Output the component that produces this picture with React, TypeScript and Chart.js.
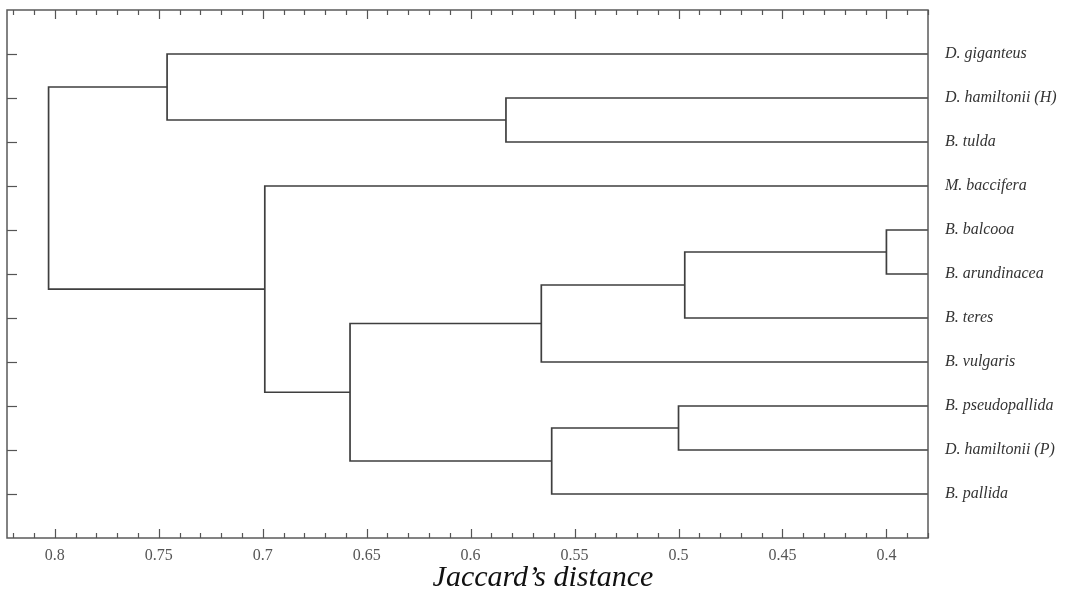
import React, { useEffect, useRef } from "react";
import { Chart, registerables } from "chart.js";

Chart.register(...registerables);

// Leaves, top to bottom
const leafNames: string[] = [
  "D. giganteus",
  "D. hamiltonii (H)",
  "B. tulda",
  "M. baccifera",
  "B. balcooa",
  "B. arundinacea",
  "B. teres",
  "B. vulgaris",
  "B. pseudopallida",
  "D. hamiltonii (P)",
  "B. pallida",
];
const leafDistance = 0.38;

// Merges: child A index, child B index (leaves 0..10, new nodes 11..)
const mergeChildA: number[] = [1, 0, 4, 13, 14, 8, 16, 15, 3, 12];
const mergeChildB: number[] = [2, 11, 5, 6, 7, 9, 10, 17, 18, 19];
const mergeDistance: number[] = [0.583, 0.746, 0.4, 0.497, 0.566, 0.5, 0.561, 0.658, 0.699, 0.803];

const xMajorTicks: number[] = [0.8, 0.75, 0.7, 0.65, 0.6, 0.55, 0.5, 0.45, 0.4];
const xMinorStep = 0.01;
const xMin = 0.38;
const xMax = 0.823;
const axisTitle = "Jaccard\u2019s distance";

function buildSegments() {
  const nodeX: number[] = leafNames.map(() => leafDistance);
  const nodeY: number[] = leafNames.map((_, i) => i + 1);
  const sets: { x: number; y: number }[][] = [];
  mergeDistance.forEach((h, i) => {
    const a = mergeChildA[i];
    const b = mergeChildB[i];
    sets.push([
      { x: nodeX[a], y: nodeY[a] },
      { x: h, y: nodeY[a] },
      { x: h, y: nodeY[b] },
      { x: nodeX[b], y: nodeY[b] },
    ]);
    nodeX.push(h);
    nodeY.push((nodeY[a] + nodeY[b]) / 2);
  });
  return sets;
}

const serif = "'Liberation Serif', 'Times New Roman', serif";

const decorPlugin = {
  id: "dendroDecor",
  afterDraw(chart: any) {
    const { ctx, chartArea } = chart;
    const xs = chart.scales.x;
    const ys = chart.scales.y;
    const { left, right, top, bottom } = chartArea;
    ctx.save();
    // frame
    ctx.strokeStyle = "#5a5a5a";
    ctx.lineWidth = 1.5;
    ctx.strokeRect(left, top, right - left, bottom - top);
    // x ticks
    ctx.lineWidth = 1.2;
    ctx.strokeStyle = "#555";
    const kStart = Math.ceil(xMin / xMinorStep - 1e-9);
    const kEnd = Math.floor(xMax / xMinorStep + 1e-9);
    for (let k = kStart; k <= kEnd; k++) {
      const v = k * xMinorStep;
      const px = Math.round(xs.getPixelForValue(v)) + 0.5;
      const major = xMajorTicks.some((m) => Math.abs(m - v) < 1e-6);
      const len = major ? 9 : 5;
      ctx.beginPath();
      ctx.moveTo(px, bottom);
      ctx.lineTo(px, bottom - len);
      ctx.moveTo(px, top);
      ctx.lineTo(px, top + len);
      ctx.stroke();
    }
    // x tick labels
    ctx.fillStyle = "#555";
    ctx.font = `16px ${serif}`;
    ctx.textAlign = "center";
    ctx.textBaseline = "middle";
    xMajorTicks.forEach((m) => {
      ctx.fillText(String(m), xs.getPixelForValue(m), bottom + 18);
    });
    // y ticks + leaf labels
    ctx.font = `italic 16px ${serif}`;
    ctx.textAlign = "left";
    ctx.fillStyle = "#333";
    leafNames.forEach((name, i) => {
      const py = Math.round(ys.getPixelForValue(i + 1)) + 0.5;
      ctx.beginPath();
      ctx.moveTo(left, py);
      ctx.lineTo(left + 10, py);
      ctx.stroke();
      ctx.fillText(name, right + 17, ys.getPixelForValue(i + 1));
    });
    // axis title
    ctx.fillStyle = "#111";
    ctx.font = `italic 30px ${serif}`;
    ctx.textAlign = "center";
    ctx.textBaseline = "alphabetic";
    ctx.fillText(axisTitle, 543, 586);
    ctx.restore();
  },
};

export default function App() {
  const ref = useRef<HTMLCanvasElement | null>(null);
  useEffect(() => {
    document.body.style.margin = "0";
    const canvas = ref.current;
    if (!canvas) return;
    const segs = buildSegments();
    const chart = new Chart(canvas, {
      type: "scatter",
      data: {
        datasets: segs.map((s) => ({
          data: s,
          showLine: true,
          borderColor: "#3f3f3f",
          borderWidth: 1.7,
          pointRadius: 0,
          fill: false,
          tension: 0,
        })),
      },
      options: {
        animation: false,
        responsive: false,
        maintainAspectRatio: false,
        events: [],
        layout: { padding: { left: 7, top: 10, right: 158, bottom: 59 } },
        plugins: {
          legend: { display: false },
          tooltip: { enabled: false },
          title: { display: false },
        },
        scales: {
          x: { type: "linear", min: xMin, max: xMax, reverse: true, display: false },
          y: { type: "linear", min: 0, max: 12, reverse: true, display: false },
        },
      },
      plugins: [decorPlugin],
    });
    return () => chart.destroy();
  }, []);
  return (
    <div style={{ position: "absolute", left: 0, top: 0, width: 1086, height: 597, background: "#fff" }}>
      <canvas ref={ref} width={1086} height={597} style={{ display: "block" }} />
    </div>
  );
}
